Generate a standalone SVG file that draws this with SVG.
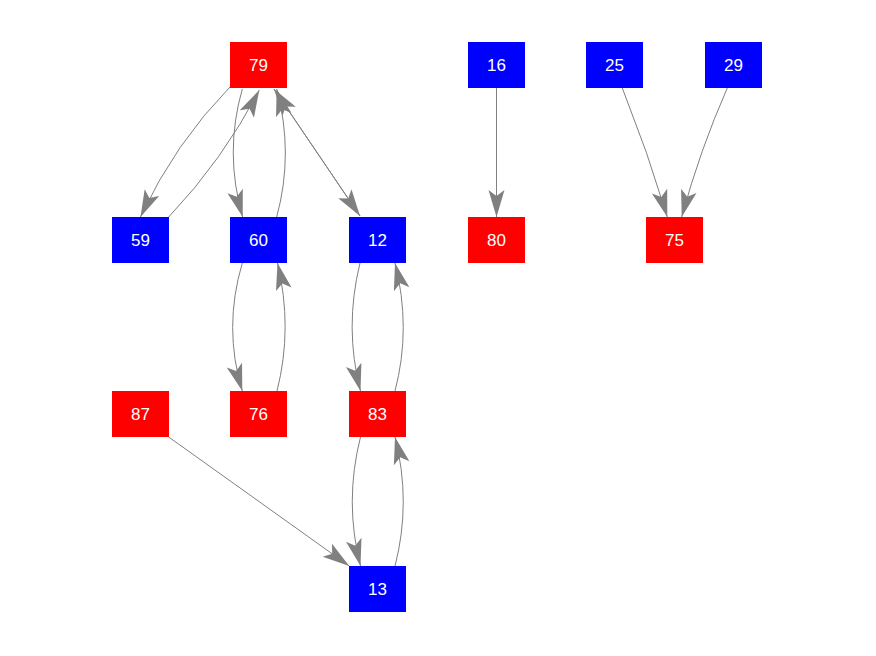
<svg xmlns="http://www.w3.org/2000/svg" width="876" height="656" viewBox="0 0 876 656">
<style>
.red{fill:#ff0000}
.blue{fill:#0000ff}
.lbl{fill:#ffffff;font-family:"Liberation Sans",Arial,sans-serif;font-size:17px;text-anchor:middle}
.e{fill:none;stroke:#808080;stroke-width:1;marker-end:url(#arr)}
</style>
<defs>
<marker id="arr" markerUnits="userSpaceOnUse" markerWidth="28" markerHeight="16" refX="27" refY="8" orient="auto" overflow="visible">
<path d="M0,0 L27,8 L0,16 L6,8 z" fill="#808080"/>
</marker>
</defs>
<rect width="876" height="656" fill="#ffffff"/>
<g id="edges">
<path class="e" d="M230,87 Q175,143 140.5,217"/>
<path class="e" d="M168.7,217 Q222.9,160 259.3,90"/>
<path class="e" d="M242.3,89 Q224,153 242.7,217"/>
<path class="e" d="M276.7,217 Q294,153 276.7,89"/>
<path class="e" d="M274,89 L360,216"/>
<path class="e" d="M360,216 L274,89"/>
<path class="e" d="M242.3,263 Q223,328 242.3,391"/>
<path class="e" d="M277,391 Q293,328 277.5,263"/>
<path class="e" d="M360,263 Q344,328 360.5,391"/>
<path class="e" d="M395,391 Q411.5,328 395,263"/>
<path class="e" d="M360.5,437 Q344,502 360.5,566"/>
<path class="e" d="M395,566 Q411.5,502 395,437"/>
<path class="e" d="M168.7,437 L349.3,566"/>
<path class="e" d="M496.5,88 L496.5,217"/>
<path class="e" d="M622.3,88 Q647.8,152 667.3,217"/>
<path class="e" d="M727.3,88 Q700,150 681.7,217"/>
</g>
<g id="n79"><rect class="red" x="230" y="42" width="57" height="46"/><text class="lbl" x="258.5" y="71">79</text></g>
<g id="n16"><rect class="blue" x="468" y="42" width="57" height="46"/><text class="lbl" x="496.5" y="71">16</text></g>
<g id="n25"><rect class="blue" x="586" y="42" width="57" height="46"/><text class="lbl" x="614.5" y="71">25</text></g>
<g id="n29"><rect class="blue" x="705" y="42" width="57" height="46"/><text class="lbl" x="733.5" y="71">29</text></g>
<g id="n59"><rect class="blue" x="112" y="217" width="57" height="46"/><text class="lbl" x="140.5" y="246">59</text></g>
<g id="n60"><rect class="blue" x="230" y="217" width="57" height="46"/><text class="lbl" x="258.5" y="246">60</text></g>
<g id="n12"><rect class="blue" x="349" y="217" width="57" height="46"/><text class="lbl" x="377.5" y="246">12</text></g>
<g id="n80"><rect class="red" x="468" y="217" width="57" height="46"/><text class="lbl" x="496.5" y="246">80</text></g>
<g id="n75"><rect class="red" x="646" y="217" width="57" height="46"/><text class="lbl" x="674.5" y="246">75</text></g>
<g id="n87"><rect class="red" x="112" y="391" width="57" height="46"/><text class="lbl" x="140.5" y="420">87</text></g>
<g id="n76"><rect class="red" x="230" y="391" width="57" height="46"/><text class="lbl" x="258.5" y="420">76</text></g>
<g id="n83"><rect class="red" x="349" y="391" width="57" height="46"/><text class="lbl" x="377.5" y="420">83</text></g>
<g id="n13"><rect class="blue" x="349" y="566" width="57" height="46"/><text class="lbl" x="377.5" y="595">13</text></g>
</svg>
